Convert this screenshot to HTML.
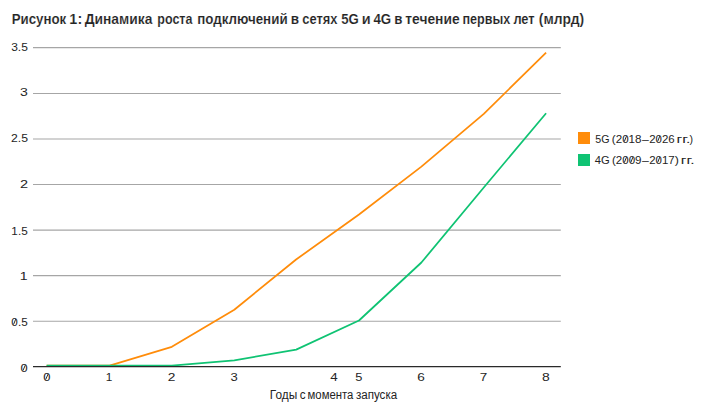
<!DOCTYPE html>
<html><head><meta charset="utf-8">
<style>
html,body{margin:0;padding:0;background:#fff;}
body{width:710px;height:417px;overflow:hidden;font-family:"Liberation Sans",sans-serif;}
svg{display:block}
text{font-family:"Liberation Sans",sans-serif;fill:#242424}
</style></head><body>
<svg width="710" height="417" viewBox="0 0 710 417">
<rect width="710" height="417" fill="#fff"/>
<!--T--><g font-size="14" font-weight="bold" fill="#101010" stroke="#ffffff" stroke-width="0.15">
<text x="11.64" y="24" textLength="54.56" lengthAdjust="spacingAndGlyphs">Рисунок</text>
<text x="69.37" y="24" textLength="12.84" lengthAdjust="spacingAndGlyphs">1:</text>
<text x="84.65" y="24" textLength="67.72" lengthAdjust="spacingAndGlyphs">Динамика</text>
<text x="157.35" y="24" textLength="35.08" lengthAdjust="spacingAndGlyphs">роста</text>
<text x="197.17" y="24" textLength="90.45" lengthAdjust="spacingAndGlyphs">подключений</text>
<text x="290.87" y="24" textLength="8.32" lengthAdjust="spacingAndGlyphs">в</text>
<text x="302.37" y="24" textLength="35.19" lengthAdjust="spacingAndGlyphs">сетях</text>
<text x="341.17" y="24" textLength="17.65" lengthAdjust="spacingAndGlyphs">5G</text>
<text x="361.82" y="24" textLength="8.93" lengthAdjust="spacingAndGlyphs">и</text>
<text x="373.46" y="24" textLength="17.79" lengthAdjust="spacingAndGlyphs">4G</text>
<text x="394.14" y="24" textLength="8.21" lengthAdjust="spacingAndGlyphs">в</text>
<text x="405.30" y="24" textLength="54.35" lengthAdjust="spacingAndGlyphs">течение</text>
<text x="462.48" y="24" textLength="47.88" lengthAdjust="spacingAndGlyphs">первых</text>
<text x="513.38" y="24" textLength="21.28" lengthAdjust="spacingAndGlyphs">лет</text>
<text x="538.77" y="24" textLength="45.36" lengthAdjust="spacingAndGlyphs">(млрд)</text>
</g><!--/T-->
<g stroke="#a6a6a6" stroke-width="1.1">
<line x1="33" x2="560.8" y1="47.65" y2="47.65"/>
<line x1="33" x2="560.8" y1="93.5" y2="93.5"/>
<line x1="33" x2="560.8" y1="139.07" y2="139.07"/>
<line x1="33" x2="560.8" y1="184.55" y2="184.55"/>
<line x1="33" x2="560.8" y1="230.1" y2="230.1"/>
<line x1="33" x2="560.8" y1="275.62" y2="275.62"/>
<line x1="33" x2="560.8" y1="321.2" y2="321.2"/>
</g>
<polyline fill="none" stroke="#FF8C0A" stroke-width="1.75" stroke-linejoin="round" points="46.6,365.65 109.6,365.65 171.8,346.85 234.3,309.7 296.1,259.5 359,214.5 421.4,166.6 483.8,113.9 546.1,52.6"/>
<polyline fill="none" stroke="#0FC373" stroke-width="1.75" stroke-linejoin="round" points="46.6,365.65 109.3,365.65 171.8,365.65 234.3,360.3 296.2,349.6 359,320.5 421.4,262.5 484,187.2 546.1,113.3"/>
<line x1="33" x2="560.8" y1="366.6" y2="366.6" stroke="#2a2a2a" stroke-width="1.2"/>
<!--A--><g font-size="11.7">
<text x="11.15" y="51" textLength="16.65" lengthAdjust="spacingAndGlyphs">3.5</text>
<text x="20.07" y="96" textLength="7.84" lengthAdjust="spacingAndGlyphs">3</text>
<text x="11.05" y="142" textLength="16.99" lengthAdjust="spacingAndGlyphs">2.5</text>
<text x="20.00" y="188" textLength="8.10" lengthAdjust="spacingAndGlyphs">2</text>
<text x="11.36" y="235" textLength="16.31" lengthAdjust="spacingAndGlyphs">1.5</text>
<text x="19.85" y="280" textLength="7.87" lengthAdjust="spacingAndGlyphs">1</text>
<text x="11.38" y="326" textLength="16.26" lengthAdjust="spacingAndGlyphs">0.5</text>
<text x="20.55" y="372" textLength="7.18" lengthAdjust="spacingAndGlyphs">0</text>
<text x="43.26" y="381" textLength="7.25" lengthAdjust="spacingAndGlyphs">0</text>
<text x="105.88" y="381" textLength="6.60" lengthAdjust="spacingAndGlyphs">1</text>
<text x="167.67" y="381" textLength="7.67" lengthAdjust="spacingAndGlyphs">2</text>
<text x="230.42" y="381" textLength="7.26" lengthAdjust="spacingAndGlyphs">3</text>
<text x="330.30" y="381" textLength="7.46" lengthAdjust="spacingAndGlyphs">4</text>
<text x="355.37" y="381" textLength="7.16" lengthAdjust="spacingAndGlyphs">5</text>
<text x="417.31" y="381" textLength="7.57" lengthAdjust="spacingAndGlyphs">6</text>
<text x="479.68" y="381" textLength="7.51" lengthAdjust="spacingAndGlyphs">7</text>
<text x="541.95" y="381" textLength="7.77" lengthAdjust="spacingAndGlyphs">8</text>
</g><!--/A-->
<!--X--><g font-size="12">
<text x="269.80" y="399" textLength="27.39" lengthAdjust="spacingAndGlyphs">Годы</text>
<text x="299.64" y="399" textLength="5.83" lengthAdjust="spacingAndGlyphs">с</text>
<text x="307.59" y="399" textLength="45.82" lengthAdjust="spacingAndGlyphs">момента</text>
<text x="355.91" y="399" textLength="41.26" lengthAdjust="spacingAndGlyphs">запуска</text>
</g><!--/X-->
<rect x="578" y="132" width="12" height="12" fill="#FF8C0A"/>
<rect x="578" y="154" width="12" height="12" fill="#0FC373"/>
<!--L--><g font-size="11.7">
<text x="595.24" y="143" textLength="14.23" lengthAdjust="spacingAndGlyphs">5G</text>
<text x="611.85" y="143" textLength="29.70" lengthAdjust="spacingAndGlyphs">(2018</text>
<text x="642.05" y="143" textLength="6.83" lengthAdjust="spacingAndGlyphs">–</text>
<text x="649.13" y="143" textLength="25.53" lengthAdjust="spacingAndGlyphs">2026</text>
<text x="676.58" y="143" textLength="13.79" lengthAdjust="spacingAndGlyphs">гг.</text>
<text x="689.48" y="143" textLength="3.53" lengthAdjust="spacingAndGlyphs">)</text>
<text x="594.75" y="164" textLength="14.92" lengthAdjust="spacingAndGlyphs">4G</text>
<text x="611.90" y="164" textLength="29.63" lengthAdjust="spacingAndGlyphs">(2009</text>
<text x="642.05" y="164" textLength="6.83" lengthAdjust="spacingAndGlyphs">–</text>
<text x="649.14" y="164" textLength="25.52" lengthAdjust="spacingAndGlyphs">2017</text>
<text x="674.66" y="164" textLength="4.13" lengthAdjust="spacingAndGlyphs">)</text>
<text x="680.78" y="164" textLength="13.74" lengthAdjust="spacingAndGlyphs">гг.</text>
</g><!--/L-->






<!--Z--><g stroke="#2c2c2c" stroke-width="1" stroke-linecap="butt"><line x1="13.53" y1="324.58" x2="15.75" y2="319.05"/>
<line x1="22.92" y1="370.58" x2="25.36" y2="365.05"/>
<line x1="45.65" y1="379.58" x2="48.12" y2="374.05"/>
<line x1="624.30" y1="141.58" x2="626.50" y2="136.05"/>
<line x1="657.62" y1="141.58" x2="659.79" y2="136.05"/>
<line x1="624.32" y1="162.58" x2="626.52" y2="157.05"/>
<line x1="630.76" y1="162.58" x2="632.96" y2="157.05"/>
<line x1="657.63" y1="162.58" x2="659.80" y2="157.05"/></g><!--/Z-->
</svg>
</body></html>
